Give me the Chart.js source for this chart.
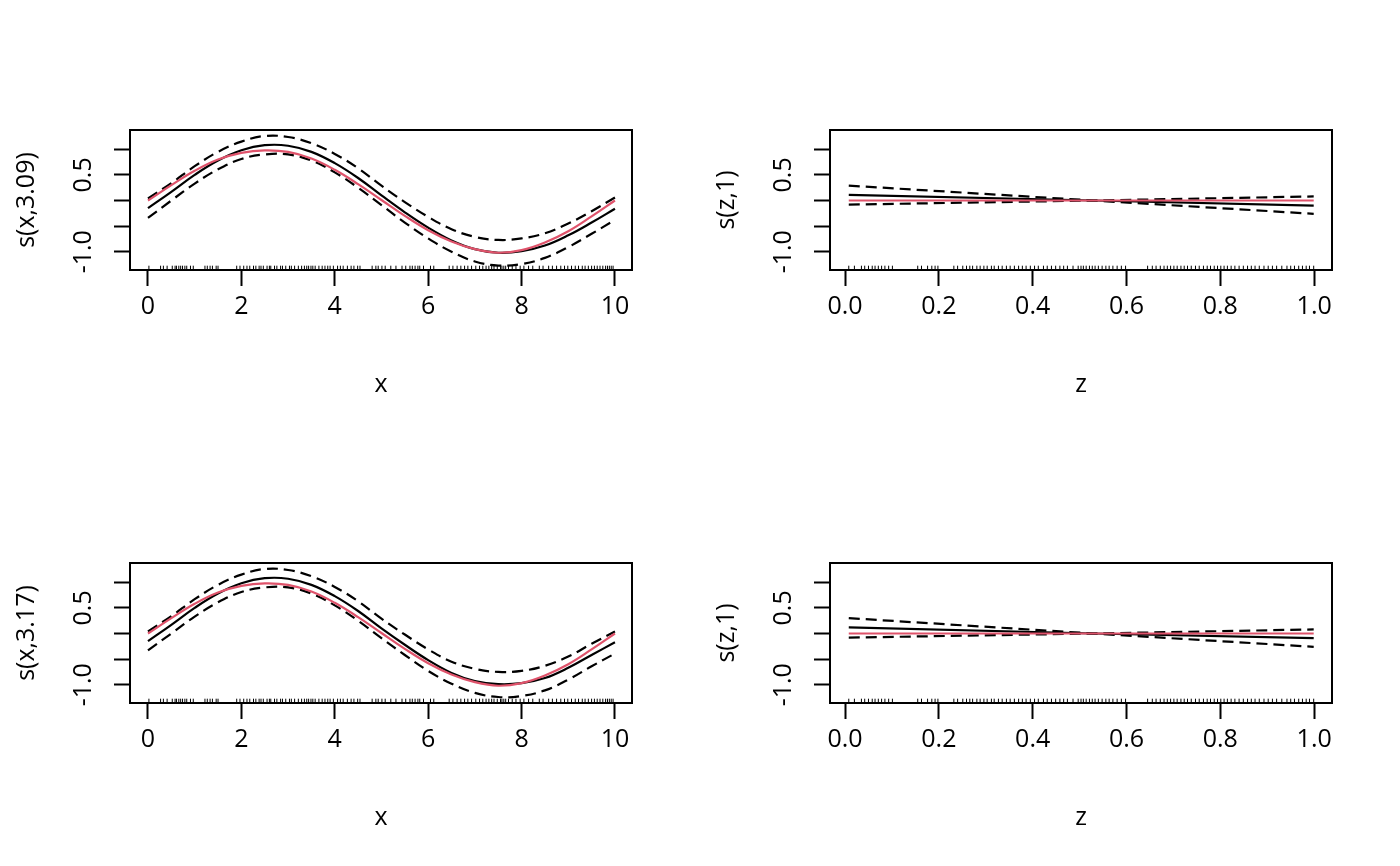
<!DOCTYPE html>
<html>
<head>
<meta charset="utf-8">
<script src="https://cdn.jsdelivr.net/npm/chart.js@4.4.1/dist/chart.umd.min.js"></script>
<style>
body { margin: 0; background: #ffffff; }
.panel { position: absolute; width: 700px; height: 433px; }
</style>
</head>
<body>
<div class="panel" style="left:0;top:0"><canvas id="panelX1" width="700" height="433"></canvas></div>
<div class="panel" style="left:700px;top:0"><canvas id="panelZ1" width="700" height="433"></canvas></div>
<div class="panel" style="left:0;top:433px"><canvas id="panelX2" width="700" height="433"></canvas></div>
<div class="panel" style="left:700px;top:433px"><canvas id="panelZ2" width="700" height="433"></canvas></div>
<script>
// grid where the smooths were evaluated
const xGrid = [0, 0.5, 1, 1.5, 2, 2.5, 3, 3.5, 4, 4.5, 5, 5.5, 6, 6.5, 7, 7.5, 8, 8.5, 9, 9.5, 10];
const zGrid = [0.008, 0.53, 0.999];

// top row: s(x,3.09), s(z,1)
const fitX1   = [-0.15, 0.17, 0.50, 0.78, 0.98, 1.08, 1.07, 0.95, 0.73, 0.44, 0.10, -0.23, -0.53, -0.78, -0.95, -1.02, -0.99, -0.88, -0.68, -0.43, -0.16];
const upperX1 = [0.04, 0.34, 0.67, 0.95, 1.15, 1.26, 1.24, 1.12, 0.91, 0.63, 0.29, -0.03, -0.32, -0.56, -0.71, -0.77, -0.74, -0.64, -0.45, -0.21, 0.06];
const lowerX1 = [-0.34, 0.00, 0.33, 0.61, 0.81, 0.90, 0.90, 0.78, 0.55, 0.25, -0.09, -0.43, -0.74, -1.00, -1.19, -1.27, -1.24, -1.12, -0.91, -0.65, -0.38];
const fitZ1   = [0.11, 0.00, -0.10];
const upperZ1 = [0.29, 0.00, 0.08];
const lowerZ1 = [-0.08, 0.00, -0.26];

// bottom row: s(x,3.17), s(z,1)
const fitX2   = [-0.15, 0.17, 0.50, 0.78, 0.98, 1.08, 1.07, 0.95, 0.73, 0.44, 0.10, -0.22, -0.52, -0.77, -0.93, -0.99, -0.97, -0.87, -0.67, -0.42, -0.17];
const upperX2 = [0.04, 0.34, 0.67, 0.95, 1.15, 1.26, 1.24, 1.12, 0.91, 0.63, 0.29, -0.02, -0.31, -0.55, -0.69, -0.75, -0.73, -0.63, -0.45, -0.20, 0.04];
const lowerX2 = [-0.33, 0.00, 0.33, 0.61, 0.81, 0.90, 0.90, 0.78, 0.55, 0.25, -0.09, -0.42, -0.73, -0.98, -1.16, -1.24, -1.22, -1.11, -0.90, -0.64, -0.39];
const fitZ2   = [0.12, 0.00, -0.09];
const upperZ2 = [0.30, 0.00, 0.08];
const lowerZ2 = [-0.08, 0.00, -0.26];

// true functions (red)
const trueX = [0.00, 0.30, 0.58, 0.80, 0.93, 0.98, 0.95, 0.82, 0.60, 0.32, 0.01, -0.30, -0.58, -0.80, -0.95, -1.02, -0.97, -0.82, -0.60, -0.31, 0.00];
const trueZ = [0.00, 0.00, 0.00];

// rug of observed covariate values
const rugX = [0.02, 0.27, 0.33, 0.41, 0.52, 0.58, 0.61, 0.66, 0.70, 0.74, 0.79, 0.83, 0.91, 0.97, 1.22, 1.27, 1.33, 1.38, 1.46, 1.50,
  1.90, 1.97, 2.05, 2.12, 2.18, 2.26, 2.31, 2.38, 2.42, 2.47, 2.55, 2.60, 2.63, 2.71, 2.76, 2.84, 2.88, 2.95, 3.03, 3.07,
  3.14, 3.22, 3.29, 3.35, 3.40, 3.44, 3.49, 3.53, 3.58, 3.66, 3.73, 3.79, 3.85, 3.90, 3.97, 4.06, 4.12, 4.18, 4.27, 4.35,
  4.41, 4.49, 4.54, 4.80, 4.88, 4.93, 5.01, 5.08, 5.20, 5.31, 5.44, 5.52, 5.61, 5.66, 5.72, 5.78, 5.82, 5.90, 6.05, 6.12,
  6.45, 6.53, 6.62, 6.70, 6.78, 6.85, 6.93, 7.02, 7.10, 7.17, 7.24, 7.30, 7.36, 7.41, 7.48, 7.55, 7.58, 7.62, 7.66, 7.72,
  7.80, 7.88, 7.97, 8.05, 8.15, 8.24, 8.38, 8.46, 8.58, 8.66, 8.75, 8.84, 8.92, 8.99, 9.07, 9.15, 9.22, 9.30, 9.36, 9.43,
  9.50, 9.56, 9.62, 9.68, 9.74, 9.80, 9.84, 9.88, 9.92, 9.96];
const rugZ = [0.008, 0.02, 0.035, 0.042, 0.05, 0.058, 0.064, 0.071, 0.078, 0.085, 0.093, 0.101, 0.155, 0.163, 0.176, 0.185, 0.192, 0.198,
  0.232, 0.24, 0.251, 0.259, 0.266, 0.272, 0.281, 0.288, 0.296, 0.303, 0.312, 0.318, 0.327, 0.335, 0.344, 0.352, 0.361, 0.37,
  0.378, 0.386, 0.395, 0.404, 0.412, 0.423, 0.431, 0.44, 0.449, 0.458, 0.466, 0.474, 0.486, 0.497, 0.503, 0.508, 0.514, 0.521,
  0.527, 0.533, 0.54, 0.548, 0.556, 0.563, 0.571, 0.58, 0.589, 0.598, 0.645, 0.655, 0.663, 0.672, 0.68, 0.687, 0.694, 0.701,
  0.708, 0.716, 0.723, 0.73, 0.738, 0.747, 0.755, 0.764, 0.772, 0.779, 0.787, 0.794, 0.801, 0.808, 0.815, 0.823, 0.831, 0.84,
  0.849, 0.858, 0.866, 0.874, 0.883, 0.893, 0.902, 0.911, 0.92, 0.931, 0.942, 0.95, 0.958, 0.967, 0.975, 0.983, 0.99, 0.999];

// axes
const xTicks = [0, 2, 4, 6, 8, 10];
const xTickLabels = ['0', '2', '4', '6', '8', '10'];
const zTicks = [0, 0.2, 0.4, 0.6, 0.8, 1.0];
const zTickLabels = ['0.0', '0.2', '0.4', '0.6', '0.8', '1.0'];
const yTicks = [-1, -0.5, 0, 0.5, 1];
const yTickLabels = ['-1.0', '', '', '0.5', ''];

const X_RANGE = [-0.385, 10.365];
const Z_RANGE = [-0.032, 1.038];
const Y_RANGE = [-1.357, 1.377];

const FONT_SIZE = 25;
const RED = '#DF536B';

Chart.defaults.font.family = '"Open Sans", "Noto Sans", sans-serif';
Chart.defaults.font.size = FONT_SIZE;
Chart.defaults.color = '#000000';

// box round the plot region plus R style rotated y tick labels
const framePlugin = {
    id: 'frame',
    afterDraw(chart) {
        const { ctx, chartArea: a } = chart;
        ctx.save();
        ctx.strokeStyle = '#000000';
        ctx.lineWidth = 2;
        ctx.strokeRect(a.left, a.top, a.right - a.left, a.bottom - a.top);

        const yScale = chart.scales.y;
        ctx.fillStyle = '#000000';
        ctx.font = FONT_SIZE + 'px "Open Sans", "Noto Sans", sans-serif';
        ctx.textAlign = 'center';
        ctx.textBaseline = 'alphabetic';
        yTicks.forEach(function(v, i) {
            if (!yTickLabels[i]) return;
            ctx.save();
            ctx.translate(a.left - 39, yScale.getPixelForValue(v));
            ctx.rotate(-Math.PI / 2);
            ctx.fillText(yTickLabels[i], 0, 0);
            ctx.restore();
        });
        ctx.restore();
    }
};

function pairs(xs, ys) {
    return xs.map(function(x, i) { return { x: x, y: ys[i] }; });
}

function lineSet(xs, ys, color, dashed, tension) {
    return {
        data: pairs(xs, ys),
        showLine: true,
        borderColor: color,
        borderWidth: 2.2,
        borderDash: dashed ? [11, 6] : [],
        pointRadius: 0,
        tension: tension,
        fill: false
    };
}

function initPanel(canvasId, cfg) {
    const ctx = document.getElementById(canvasId);
    // rug ticks sit on the bottom of the box, 3% of the plot height tall
    const rugY = Y_RANGE[0] + (Y_RANGE[1] - Y_RANGE[0]) * 0.015;
    const rugSet = {
        data: cfg.rug.map(function(v) { return { x: v, y: rugY }; }),
        pointStyle: 'line',
        rotation: 90,
        pointRadius: 2.2,
        pointBorderWidth: 1,
        borderColor: '#000000',
        showLine: false
    };

    new Chart(ctx, {
        type: 'scatter',
        data: {
            datasets: [
                lineSet(cfg.grid, cfg.truth, RED, false, cfg.tension),
                lineSet(cfg.grid, cfg.fit, '#000000', false, cfg.tension),
                lineSet(cfg.grid, cfg.upper, '#000000', true, cfg.tension),
                lineSet(cfg.grid, cfg.lower, '#000000', true, cfg.tension),
                rugSet
            ]
        },
        options: {
            responsive: false,
            animation: false,
            events: [],
            layout: {
                padding: { top: 130, right: 68, left: 0, bottom: 0 }
            },
            plugins: {
                legend: { display: false },
                tooltip: { enabled: false }
            },
            scales: {
                x: {
                    type: 'linear',
                    min: cfg.range[0],
                    max: cfg.range[1],
                    afterBuildTicks: function(scale) {
                        scale.ticks = cfg.ticks.map(function(v) { return { value: v }; });
                    },
                    afterFit: function(scale) { scale.height = 163; },
                    grid: {
                        drawOnChartArea: false,
                        drawTicks: true,
                        tickLength: 16,
                        tickColor: '#000000',
                        tickWidth: 2
                    },
                    border: { display: false },
                    ticks: {
                        color: '#000000',
                        padding: 6,
                        autoSkip: false,
                        maxRotation: 0,
                        callback: function(value, index) { return cfg.tickLabels[index]; }
                    },
                    title: {
                        display: true,
                        text: cfg.xTitle,
                        color: '#000000',
                        padding: { top: 0, bottom: 33 }
                    }
                },
                y: {
                    type: 'linear',
                    min: Y_RANGE[0],
                    max: Y_RANGE[1],
                    afterBuildTicks: function(scale) {
                        scale.ticks = yTicks.map(function(v) { return { value: v }; });
                    },
                    afterFit: function(scale) { scale.width = 130; },
                    grid: {
                        drawOnChartArea: false,
                        drawTicks: true,
                        tickLength: 16,
                        tickColor: '#000000',
                        tickWidth: 2
                    },
                    border: { display: false },
                    ticks: {
                        callback: function() { return ''; }
                    },
                    title: {
                        display: true,
                        text: cfg.yTitle,
                        color: '#000000',
                        padding: { top: 12, bottom: 0 }
                    }
                }
            }
        },
        plugins: [framePlugin]
    });
}

initPanel('panelX1', { grid: xGrid, fit: fitX1, upper: upperX1, lower: lowerX1, truth: trueX, rug: rugX,
    range: X_RANGE, ticks: xTicks, tickLabels: xTickLabels, xTitle: 'x', yTitle: 's(x,3.09)', tension: 0.4 });
initPanel('panelZ1', { grid: zGrid, fit: fitZ1, upper: upperZ1, lower: lowerZ1, truth: trueZ, rug: rugZ,
    range: Z_RANGE, ticks: zTicks, tickLabels: zTickLabels, xTitle: 'z', yTitle: 's(z,1)', tension: 0 });
initPanel('panelX2', { grid: xGrid, fit: fitX2, upper: upperX2, lower: lowerX2, truth: trueX, rug: rugX,
    range: X_RANGE, ticks: xTicks, tickLabels: xTickLabels, xTitle: 'x', yTitle: 's(x,3.17)', tension: 0.4 });
initPanel('panelZ2', { grid: zGrid, fit: fitZ2, upper: upperZ2, lower: lowerZ2, truth: trueZ, rug: rugZ,
    range: Z_RANGE, ticks: zTicks, tickLabels: zTickLabels, xTitle: 'z', yTitle: 's(z,1)', tension: 0 });
</script>
</body>
</html>
